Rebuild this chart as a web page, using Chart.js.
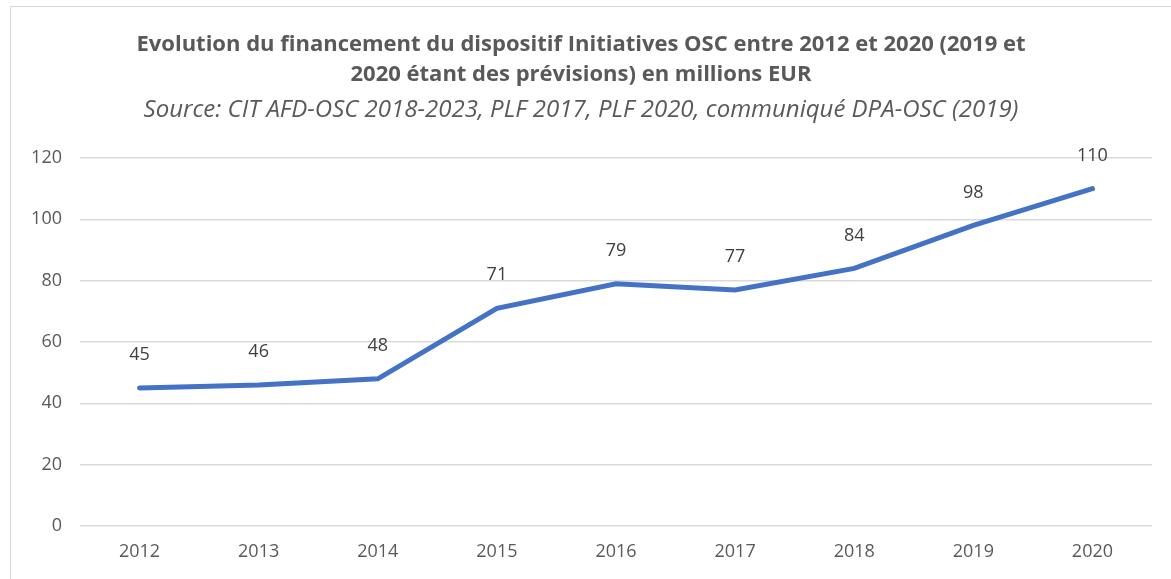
<!DOCTYPE html>
<html lang="fr">
  <head>
    <meta charset="utf-8">
    <title>Financement Initiatives OSC</title>
    <style>
      body { margin: 0; background: #fff; }
      #frame { position: absolute; left: 10px; top: 6px; width: 1200px; height: 620px; border: 1px solid #d9d9d9; }
      #wrap { position: absolute; left: 0; top: 0; width: 1171px; height: 579px; }
    </style>
  </head>
  <body>
    <div id="frame"></div>
    <div id="wrap"><canvas id="line-chart"></canvas></div>

    <script src="https://cdn.jsdelivr.net/npm/chart.js@4/dist/chart.umd.min.js"></script>
    <script>
    const years = ['2012', '2013', '2014', '2015', '2016', '2017', '2018', '2019', '2020'];
    const amounts = [45, 46, 48, 71, 79, 77, 84, 98, 110];
    const yTicks = [0, 20, 40, 60, 80, 100, 120];

    const textColor = '#595959';
    const font = '"Open Sans", Lato, sans-serif';

    // labels au-dessus des points
    const valueLabels = {
      id: 'valueLabels',
      afterDatasetsDraw(chart) {
        const ctx = chart.ctx;
        const meta = chart.getDatasetMeta(0);
        ctx.save();
        ctx.font = '18px ' + font;
        ctx.fillStyle = '#404040';
        ctx.textAlign = 'center';
        ctx.textBaseline = 'middle';
        meta.data.forEach((pt, i) => {
          ctx.fillText(String(amounts[i]), pt.x, pt.y - 33);
        });
        ctx.restore();
      }
    };

    new Chart(document.getElementById('line-chart'), {
      type: 'line',
      data: {
        labels: years,
        datasets: [{
          data: amounts,
          borderColor: '#4472C4',
          borderWidth: 5,
          pointRadius: 0,
          borderCapStyle: 'round',
          tension: 0
        }]
      },
      options: {
        responsive: true,
        maintainAspectRatio: false,
        animation: false,
        layout: { padding: { left: 10, right: 19, top: 0, bottom: 0 } },
        plugins: {
          legend: { display: false },
          tooltip: { enabled: false },
          title: {
            display: true,
            text: ['Evolution du financement du dispositif Initiatives OSC entre 2012 et 2020 (2019 et',
                   '2020 étant des prévisions) en millions EUR'],
            color: textColor,
            font: { family: font, size: 22, weight: 'bold', lineHeight: 1.364 },
            padding: { top: 30, bottom: 5 }
          },
          subtitle: {
            display: true,
            text: 'Source: CIT AFD-OSC 2018-2023, PLF 2017, PLF 2020, communiqué DPA-OSC (2019)',
            color: textColor,
            font: { family: font, size: 24, style: 'italic', lineHeight: 1.25 },
            padding: { top: 0, bottom: 33 }
          }
        },
        scales: {
          x: {
            offset: true,
            afterFit(scale) { scale.height = 53; },
            grid: { display: false, drawTicks: false },
            border: { display: false },
            ticks: { color: textColor, font: { family: font, size: 18 }, padding: 15, maxRotation: 0 }
          },
          y: {
            min: 0,
            max: 120,
            afterBuildTicks(scale) { scale.ticks = yTicks.map(v => ({ value: v })); },
            afterFit(scale) { scale.width = 70; },
            grid: { color: '#d9d9d9', lineWidth: 1.5, drawTicks: false },
            border: { display: false },
            ticks: { color: textColor, font: { family: font, size: 18 }, padding: 18 }
          }
        }
      },
      plugins: [valueLabels]
    });
    </script>
  </body>
</html>
